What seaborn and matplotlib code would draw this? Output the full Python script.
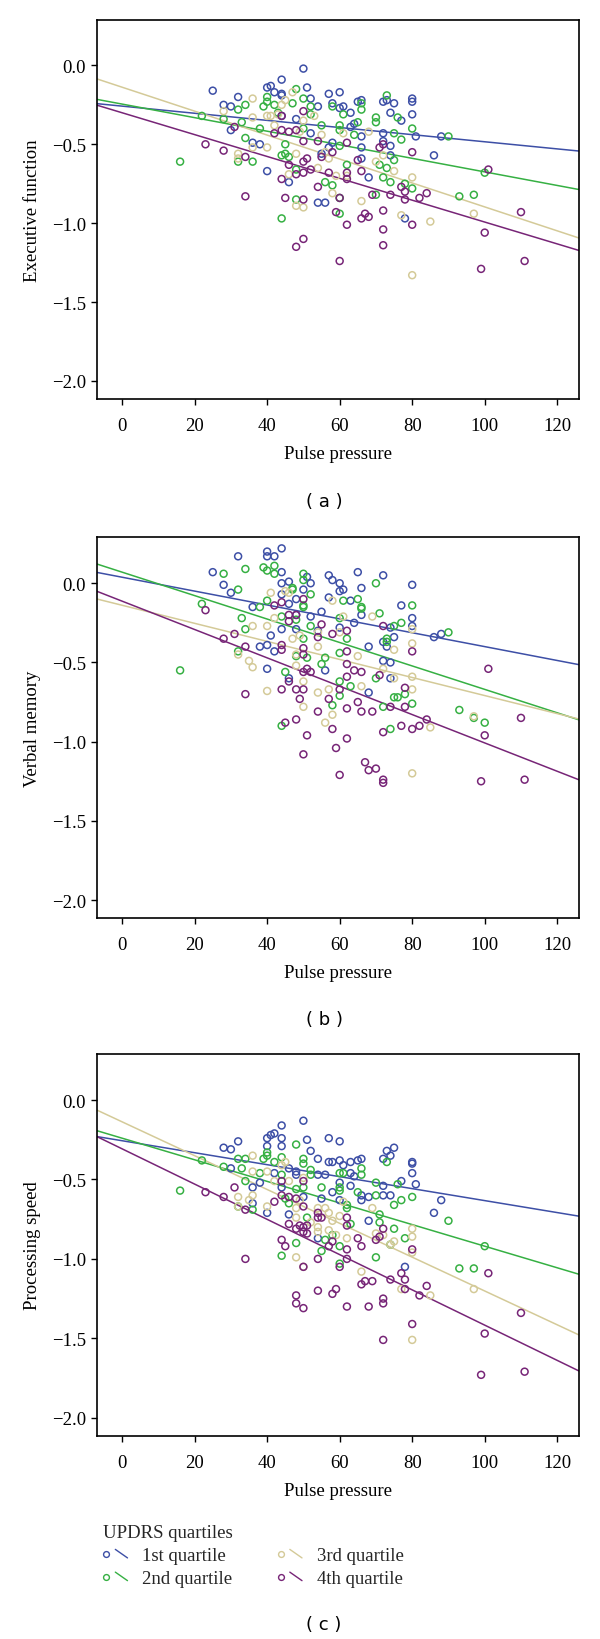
import numpy as np
import pandas as pd
import matplotlib
matplotlib.use('Agg')
import matplotlib.pyplot as plt
import seaborn as sns
from matplotlib.lines import Line2D
from matplotlib.legend_handler import HandlerBase

# ---- data: (pulse pressure, z-score) per UPDRS quartile ----
# (a) executive function
EF_Q1 = [(25, -0.16), (28, -0.25), (30, -0.26), (32, -0.20), (30, -0.41), (36, -0.49), (38, -0.50),
         (40, -0.14), (41, -0.13), (42, -0.17), (44, -0.09), (44, -0.18), (44, -0.19), (40, -0.67),
         (44, -0.32), (46, -0.74), (48, -0.34), (50, -0.02), (51, -0.14), (52, -0.21), (52, -0.43),
         (54, -0.26), (55, -0.56), (56, -0.87), (54, -0.87), (57, -0.18), (58, -0.24), (58, -0.49),
         (60, -0.17), (60, -0.27), (61, -0.26), (63, -0.30), (63, -0.39), (64, -0.37), (65, -0.23),
         (66, -0.22), (66, -0.45), (66, -0.52), (66, -0.59), (68, -0.71), (72, -0.23), (72, -0.43),
         (72, -0.48), (73, -0.22), (74, -0.30), (74, -0.51), (75, -0.24), (77, -0.35), (78, -0.97),
         (80, -0.21), (80, -0.23), (80, -0.31), (81, -0.45), (86, -0.57), (88, -0.45), (74, -0.57),
         (57, -0.52)]
EF_Q2 = [(16, -0.61), (22, -0.32), (28, -0.34), (32, -0.28), (32, -0.61), (33, -0.36), (34, -0.25),
         (34, -0.46), (36, -0.61), (38, -0.40), (39, -0.26), (40, -0.20), (40, -0.23), (42, -0.25),
         (43, -0.30), (44, -0.57), (44, -0.97), (45, -0.50), (45, -0.56), (46, -0.58), (47, -0.24),
         (48, -0.15), (48, -0.85), (48, -0.66), (50, -0.21), (50, -0.40), (52, -0.26), (52, -0.31),
         (55, -0.38), (56, -0.74), (58, -0.76), (58, -0.26), (60, -0.38), (60, -0.41), (60, -0.51),
         (60, -0.94), (60, -0.84), (61, -0.31), (62, -0.63), (64, -0.44), (65, -0.36), (66, -0.28),
         (66, -0.24), (70, -0.33), (70, -0.36), (70, -0.82), (71, -0.63), (72, -0.71), (73, -0.19),
         (73, -0.65), (74, -0.74), (75, -0.43), (75, -0.60), (76, -0.33), (77, -0.47), (78, -0.75),
         (80, -0.40), (80, -0.78), (90, -0.45), (93, -0.83), (97, -0.82), (100, -0.68)]
EF_Q3 = [(36, -0.21), (36, -0.33), (32, -0.56), (32, -0.59), (28, -0.29), (36, -0.52), (40, -0.32),
         (40, -0.52), (41, -0.32), (42, -0.38), (44, -0.25), (45, -0.22), (47, -0.17), (46, -0.69),
         (48, -0.89), (50, -0.90), (48, -0.56), (50, -0.35), (54, -0.65), (55, -0.44), (56, -0.55),
         (57, -0.59), (58, -0.81), (59, -0.70), (61, -0.43), (62, -0.70), (66, -0.86), (68, -0.42),
         (70, -0.61), (72, -0.57), (75, -0.67), (77, -0.95), (80, -0.71), (80, -1.33), (85, -0.99),
         (97, -0.94), (53, -0.32), (49, -0.42), (43, -0.31)]
EF_Q4 = [(23, -0.50), (28, -0.54), (31, -0.39), (34, -0.58), (34, -0.83), (42, -0.43), (44, -0.32),
         (44, -0.41), (44, -0.72), (45, -0.84), (46, -0.42), (46, -0.63), (48, -0.41), (48, -0.69),
         (48, -1.15), (50, -0.29), (50, -0.48), (50, -0.61), (50, -0.68), (50, -0.85), (50, -1.10),
         (51, -0.59), (52, -0.66), (54, -0.48), (54, -0.77), (55, -0.58), (57, -0.68), (58, -0.55),
         (59, -0.93), (60, -1.24), (60, -0.84), (62, -0.49), (62, -0.68), (62, -0.72), (62, -1.01),
         (65, -0.60), (66, -0.67), (66, -0.97), (67, -0.94), (68, -0.96), (69, -0.82), (71, -0.52),
         (72, -0.50), (72, -0.92), (72, -1.04), (72, -1.14), (74, -0.82), (77, -0.77), (78, -0.80),
         (78, -0.85), (80, -0.55), (80, -1.01), (82, -0.84), (84, -0.81), (99, -1.29), (100, -1.06),
         (101, -0.66), (110, -0.93), (111, -1.24)]

# (b) verbal memory
VM_Q1 = [(25, 0.07), (28, -0.01), (30, -0.06), (32, 0.17), (36, -0.15), (38, -0.40), (40, 0.20),
         (40, 0.17), (40, -0.54), (40, -0.39), (41, -0.33), (42, 0.17), (42, -0.43), (44, 0.22),
         (44, 0.07), (44, 0.00), (44, -0.07), (44, -0.29), (46, 0.01), (46, -0.60), (46, -0.13),
         (48, -0.10), (48, -0.20), (48, -0.29), (50, -0.04), (51, 0.04), (52, 0.00), (52, -0.21),
         (54, -0.30), (55, -0.18), (56, -0.55), (57, 0.05), (57, -0.09), (58, 0.02), (60, 0.00),
         (60, -0.05), (60, -0.28), (61, -0.04), (63, -0.11), (64, -0.25), (65, 0.07), (66, -0.03),
         (66, -0.20), (68, -0.40), (68, -0.69), (72, 0.05), (72, -0.37), (72, -0.49), (73, -0.40),
         (74, -0.28), (74, -0.50), (74, -0.60), (75, -0.34), (77, -0.14), (80, -0.01), (80, -0.22),
         (80, -0.27), (86, -0.34), (88, -0.32)]
VM_Q2 = [(16, -0.55), (22, -0.13), (28, 0.06), (32, -0.04), (32, -0.43), (33, -0.22), (34, 0.09),
         (34, -0.29), (38, -0.15), (39, 0.10), (40, 0.08), (40, -0.11), (42, 0.11), (42, 0.06),
         (44, -0.21), (44, -0.90), (45, -0.56), (47, -0.03), (47, -0.04), (48, -0.23), (48, -0.46),
         (50, 0.06), (50, 0.02), (50, -0.14), (50, -0.15), (50, -0.35), (51, -0.47), (52, -0.27),
         (52, -0.07), (55, -0.51), (56, -0.47), (58, -0.77), (60, -0.22), (60, -0.44), (60, -0.62),
         (60, -0.71), (61, -0.11), (62, -0.35), (63, -0.65), (65, -0.10), (66, -0.15), (66, -0.16),
         (70, 0.00), (70, -0.60), (71, -0.19), (72, -0.78), (73, -0.37), (74, -0.92), (75, -0.72),
         (76, -0.72), (77, -0.25), (78, -0.70), (80, -0.14), (80, -0.76), (90, -0.31), (93, -0.80),
         (97, -0.85), (100, -0.88), (75, -0.27), (73, -0.35)]
VM_Q3 = [(36, -0.27), (32, -0.45), (36, -0.53), (35, -0.49), (40, -0.27), (40, -0.68), (41, -0.06),
         (42, -0.22), (45, -0.05), (46, -0.06), (47, -0.35), (48, -0.45), (50, -0.78), (50, -0.62),
         (54, -0.40), (54, -0.69), (56, -0.88), (57, -0.67), (58, -0.11), (58, -0.83), (60, -0.31),
         (61, -0.21), (65, -0.46), (66, -0.65), (69, -0.21), (72, -0.54), (75, -0.42), (75, -0.60),
         (80, -0.29), (80, -0.38), (80, -0.59), (80, -0.67), (80, -1.20), (85, -0.91), (97, -0.84),
         (49, -0.33), (54, -0.31), (48, -0.52)]
VM_Q4 = [(23, -0.17), (28, -0.35), (31, -0.32), (34, -0.40), (34, -0.70), (42, -0.14), (44, -0.12),
         (44, -0.39), (44, -0.42), (44, -0.67), (45, -0.88), (46, -0.20), (46, -0.24), (46, -0.62),
         (48, -0.20), (48, -0.67), (48, -0.86), (49, -0.73), (50, -0.10), (50, -0.41), (50, -0.45),
         (50, -0.56), (50, -0.67), (50, -1.08), (51, -0.54), (51, -0.96), (52, -0.56), (54, -0.34),
         (54, -0.81), (55, -0.26), (57, -0.73), (58, -0.32), (58, -0.92), (59, -1.04), (60, -0.67),
         (60, -1.21), (62, -0.30), (62, -0.43), (62, -0.51), (62, -0.59), (62, -0.79), (62, -0.98),
         (64, -0.55), (65, -0.75), (66, -0.56), (66, -0.81), (67, -1.13), (68, -1.18), (69, -0.81),
         (70, -1.17), (71, -0.58), (72, -0.27), (72, -0.94), (72, -1.24), (72, -1.26), (74, -0.78),
         (77, -0.90), (78, -0.66), (78, -0.78), (80, -0.43), (80, -0.92), (82, -0.90), (84, -0.86),
         (99, -1.25), (100, -0.96), (101, -0.54), (110, -0.85), (111, -1.24)]

# (c) processing speed
PS_Q1 = [(28, -0.30), (30, -0.31), (32, -0.26), (30, -0.43), (36, -0.55), (36, -0.65), (38, -0.52),
         (40, -0.24), (40, -0.29), (40, -0.71), (41, -0.22), (42, -0.21), (42, -0.46), (44, -0.16),
         (44, -0.24), (44, -0.29), (44, -0.55), (46, -0.43), (46, -0.72), (48, -0.45), (48, -0.47),
         (50, -0.13), (50, -0.61), (51, -0.25), (52, -0.32), (54, -0.37), (54, -0.47), (54, -0.87),
         (55, -0.62), (56, -0.47), (57, -0.24), (57, -0.39), (58, -0.39), (58, -0.58), (60, -0.38),
         (60, -0.26), (60, -0.52), (60, -0.63), (61, -0.41), (63, -0.39), (63, -0.46), (63, -0.54),
         (64, -0.48), (65, -0.38), (66, -0.37), (66, -0.60), (66, -0.63), (68, -0.61), (68, -0.76),
         (72, -0.37), (72, -0.54), (72, -0.60), (73, -0.32), (74, -0.35), (74, -0.60), (75, -0.30),
         (77, -0.51), (78, -1.05), (80, -0.39), (80, -0.40), (80, -0.46), (81, -0.53), (86, -0.71),
         (88, -0.63)]
PS_Q2 = [(16, -0.57), (22, -0.38), (28, -0.42), (32, -0.37), (32, -0.67), (33, -0.43), (34, -0.37),
         (34, -0.51), (36, -0.69), (38, -0.46), (39, -0.37), (40, -0.33), (40, -0.35), (42, -0.39),
         (44, -0.36), (44, -0.47), (44, -0.98), (45, -0.62), (46, -0.65), (48, -0.28), (48, -0.56),
         (48, -0.90), (50, -0.37), (50, -0.40), (50, -0.55), (51, -0.74), (52, -0.44), (52, -0.47),
         (55, -0.55), (56, -0.88), (55, -0.95), (58, -0.85), (60, -0.46), (60, -0.55), (60, -0.57),
         (60, -0.92), (60, -1.03), (61, -0.46), (62, -0.66), (62, -0.68), (63, -0.78), (65, -0.58),
         (66, -0.43), (66, -0.47), (70, -0.52), (70, -0.60), (70, -0.99), (71, -0.72), (71, -0.77),
         (73, -0.39), (74, -0.91), (75, -0.66), (75, -0.81), (76, -0.53), (77, -0.63), (78, -0.87),
         (80, -0.61), (90, -0.76), (93, -1.06), (97, -1.06), (100, -0.92)]
PS_Q3 = [(36, -0.35), (36, -0.45), (32, -0.61), (32, -0.67), (35, -0.63), (36, -0.60), (40, -0.45),
         (40, -0.67), (42, -0.51), (44, -0.41), (45, -0.39), (46, -0.51), (48, -0.68), (48, -0.74),
         (48, -0.99), (50, -1.05), (50, -0.49), (54, -0.68), (54, -0.80), (54, -0.83), (56, -0.68),
         (57, -0.82), (58, -0.76), (59, -0.85), (60, -0.73), (61, -0.64), (62, -0.87), (66, -1.08),
         (69, -0.68), (70, -0.84), (72, -0.85), (74, -0.91), (75, -0.89), (77, -1.19), (80, -0.81),
         (80, -0.86), (80, -0.96), (80, -1.51), (85, -1.23), (97, -1.19), (49, -0.63), (52, -0.77),
         (57, -0.71)]
PS_Q4 = [(23, -0.58), (28, -0.61), (31, -0.55), (34, -0.69), (34, -1.00), (42, -0.64), (44, -0.51),
         (44, -0.60), (44, -0.88), (45, -0.92), (46, -0.61), (46, -0.78), (48, -0.62), (48, -0.81),
         (48, -1.23), (48, -1.28), (49, -0.79), (50, -0.51), (50, -0.67), (50, -0.80), (50, -0.83),
         (50, -1.05), (50, -1.31), (51, -0.79), (51, -0.84), (54, -0.71), (54, -0.74), (54, -1.00),
         (54, -1.20), (55, -0.74), (57, -0.92), (58, -0.89), (58, -1.22), (59, -1.19), (60, -1.05),
         (62, -0.74), (62, -0.79), (62, -0.94), (62, -1.00), (62, -1.30), (65, -0.87), (66, -0.92),
         (66, -1.16), (67, -1.14), (68, -1.30), (69, -1.14), (70, -0.88), (71, -0.86), (72, -0.81),
         (72, -1.25), (72, -1.28), (72, -1.51), (74, -1.13), (77, -1.09), (78, -1.13), (78, -1.19),
         (80, -0.94), (80, -1.41), (82, -1.23), (84, -1.17), (99, -1.73), (100, -1.47), (101, -1.09),
         (110, -1.34), (111, -1.71)]

# fitted lines per quartile: intercept, slope
EF_FIT_B0 = [-0.258, -0.245, -0.138, -0.300]
EF_FIT_B1 = [-0.00226, -0.00430, -0.00759, -0.00693]
VM_FIT_B0 = [0.038, 0.070, -0.139, -0.113]
VM_FIT_B1 = [-0.00438, -0.00740, -0.00570, -0.00895]
PS_FIT_B0 = [-0.256, -0.240, -0.137, -0.307]
PS_FIT_B1 = [-0.00377, -0.00680, -0.01065, -0.01110]

QUARTILES = ['1st quartile', '2nd quartile', '3rd quartile', '4th quartile']
COLORS = ['#3d4fa6', '#36b043', '#d4ca98', '#772577']

panels = [
    ('Executive function', [EF_Q1, EF_Q2, EF_Q3, EF_Q4], EF_FIT_B0, EF_FIT_B1, '( a )'),
    ('Verbal memory', [VM_Q1, VM_Q2, VM_Q3, VM_Q4], VM_FIT_B0, VM_FIT_B1, '( b )'),
    ('Processing speed', [PS_Q1, PS_Q2, PS_Q3, PS_Q4], PS_FIT_B0, PS_FIT_B1, '( c )'),
]

sns.set_theme(style='white')
plt.rcParams['font.family'] = ['Liberation Serif', 'DejaVu Serif']
plt.rcParams['axes.unicode_minus'] = True

FS = 13.5
fig = plt.figure(figsize=(6, 16.4), dpi=100)

# axes boxes in figure pixels (top, bottom)
boxes = [(20.7, 400), (538.3, 919.3), (1055, 1437)]
captions_y = [502, 1020, 1625]
L, R = 96.7, 579

for (ylabel, groups, b0s, b1s, cap), (top, bot), cy in zip(panels, boxes, captions_y):
    ax = fig.add_axes([L / 600, 1 - bot / 1640, (R - L) / 600, (bot - top) / 1640])
    for q, pts, c, b0, b1 in zip(QUARTILES, groups, COLORS, b0s, b1s):
        df = pd.DataFrame(pts, columns=['pp', 'z'])
        sns.scatterplot(data=df, x='pp', y='z', ax=ax, color=c, facecolor='none',
                        edgecolor=c, s=25, linewidth=1.1, legend=False, zorder=3)
        ax.axline((0, b0), slope=b1, color=c, lw=1.1, zorder=2)
    ax.set_xlim(-7, 126)
    ax.set_ylim(-2.115, 0.29)
    ax.set_xticks([0, 20, 40, 60, 80, 100, 120])
    ax.set_yticks([-2.0, -1.5, -1.0, -0.5, 0.0])
    ax.tick_params(axis='both', direction='out', length=4, width=1, color='black',
                   labelsize=FS, labelcolor='black', bottom=True, left=True)
    ax.tick_params(axis='x', pad=9)
    ax.tick_params(axis='y', pad=3.6)
    for sp in ax.spines.values():
        sp.set_color('black')
        sp.set_linewidth(1.2)
    ax.set_xlabel('Pulse pressure', fontsize=FS, labelpad=8, color='black')
    ax.set_ylabel(ylabel, fontsize=FS, labelpad=8, color='black')
    fig.text(324 / 600, 1 - cy / 1640, cap, ha='center', va='center', fontsize=13,
             family='DejaVu Sans', color='black')


class CircleSlash(HandlerBase):
    def create_artists(self, legend, orig_handle, xdescent, ydescent, width, height, fontsize, trans):
        c = orig_handle.get_color()
        dot = Line2D([width * 0.12], [height * 0.45], marker='o', ls='none', ms=4.2,
                     mfc='none', mec=c, mew=1.0, transform=trans)
        seg = Line2D([width * 0.5, width * 1.0], [height * 0.8, height * 0.15], color=c,
                     lw=1.0, transform=trans)
        return [dot, seg]


handles = [Line2D([], [], color=c) for c in COLORS]
leg = fig.legend(handles, QUARTILES, loc='upper left', bbox_to_anchor=(90 / 600, 1 - 1512 / 1640),
                 ncol=2, frameon=False, fontsize=FS, title='UPDRS quartiles', title_fontsize=FS,
                 handler_map={Line2D: CircleSlash()}, handlelength=1.3, handletextpad=0.8,
                 columnspacing=2.4, labelspacing=0.3, alignment='left', borderpad=0.2)

fig.savefig('out.png', dpi=100)
